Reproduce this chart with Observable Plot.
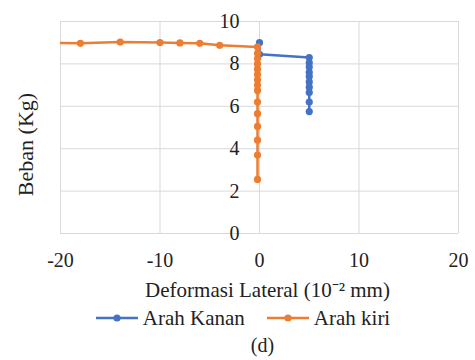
<!DOCTYPE html>
<html>
<head>
<meta charset="utf-8">
<script src="https://cdn.jsdelivr.net/npm/d3@7"></script>
<script src="https://cdn.jsdelivr.net/npm/@observablehq/plot@0.6"></script>
<style>
  body { margin: 0; background: #fff; font-family: 'Liberation Serif', serif; }
  #wrap { width: 475px; }
  #wrap svg { display: block; }
  .legend { display: flex; justify-content: center; align-items: center; gap: 21px; font-family: 'Liberation Serif', serif; font-size: 21px; color: #222; height: 22px; margin-top: -5px; padding-left: 10px; }
  .legend span.item { display: flex; align-items: center; gap: 4px; }
  .caption { text-align: center; font-family: 'Liberation Serif', serif; font-size: 20px; color: #222; margin-top: 5px; padding-left: 50px; }
</style>
</head>
<body>
<div id="wrap"></div>
<script>
// --- data ---
const seriesNames = ["Arah Kanan", "Arah kiri"];
const seriesColors = ["#4472C4", "#ED7D31"];

const kananX = [0, 0, 5, 5, 5, 5, 5, 5, 5, 5, 5, 5];
const kananY = [9.0, 8.45, 8.3, 8.05, 7.85, 7.6, 7.4, 7.15, 6.9, 6.65, 6.2, 5.75];

const kiriX = [-0.2, -0.2, -0.2, -0.2, -0.2, -0.2, -0.2, -0.2, -0.2, -0.2, -0.2, -0.2, -0.2, -0.2, -0.2, -4, -6, -8, -10, -14, -18, -22];
const kiriY = [2.55, 3.7, 4.4, 5.05, 5.65, 6.2, 6.75, 7.0, 7.25, 7.5, 7.75, 8.0, 8.25, 8.5, 8.8, 8.88, 8.97, 8.99, 9.01, 9.03, 8.97, 9.0];

const xTicks = [-20, -10, 0, 10, 20];
const yTicks = [0, 2, 4, 6, 8, 10];

const xTitle = "Deformasi Lateral (10⁻² mm)";
const yTitle = "Beban (Kg)";
const captionText = "(d)";

const kanan = kananX.map((x, i) => ({x, y: kananY[i]}));
const kiri = kiriX.map((x, i) => ({x, y: kiriY[i]}));

const font = "'Liberation Serif', serif";

const chart = Plot.plot({
  width: 475,
  height: 312,
  marginLeft: 60,
  marginRight: 17,
  marginTop: 21,
  marginBottom: 79,
  style: {fontFamily: font, fontSize: "20px", color: "#222", background: "#fff"},
  x: {domain: [-20, 20], ticks: xTicks, axis: null},
  y: {domain: [0, 10], ticks: yTicks, axis: null},
  marks: [
    Plot.gridX(xTicks, {stroke: "#d9d9d9", strokeOpacity: 1, strokeWidth: 1}),
    Plot.gridY(yTicks, {stroke: "#d9d9d9", strokeOpacity: 1, strokeWidth: 1}),
    Plot.text(xTicks, {x: d => d, frameAnchor: "bottom", dy: 33, text: d => String(d), fontSize: 20, fontFamily: font, fill: "#222"}),
    Plot.text(yTicks, {x: 0, y: d => d, text: d => String(d), textAnchor: "end", dx: -20, fontSize: 20, fontFamily: font, fill: "#222"}),
    Plot.line(kanan, {x: "x", y: "y", stroke: seriesColors[0], strokeWidth: 2.5, clip: true}),
    Plot.dot(kanan, {x: "x", y: "y", fill: seriesColors[0], r: 3.6, clip: true}),
    Plot.line(kiri, {x: "x", y: "y", stroke: seriesColors[1], strokeWidth: 2.5, clip: true}),
    Plot.dot(kiri, {x: "x", y: "y", fill: seriesColors[1], r: 3.6, clip: true}),
    Plot.text([xTitle], {frameAnchor: "bottom", textAnchor: "middle", dy: 63, dx: 8, text: d => d, fontSize: 21, fontFamily: font, fill: "#222"}),
    Plot.text([yTitle], {frameAnchor: "left", textAnchor: "middle", dx: -35, dy: 17, rotate: -90, text: d => d, fontSize: 22, fontFamily: font, fill: "#222"})
  ]
});

const wrap = document.getElementById("wrap");
wrap.appendChild(chart);

// legend
const legend = document.createElement("div");
legend.className = "legend";
seriesNames.forEach((name, i) => {
  const item = document.createElement("span");
  item.className = "item";
  item.innerHTML = `<svg width="44" height="12"><line x1="1" y1="6" x2="43" y2="6" stroke="${seriesColors[i]}" stroke-width="2.5"/><circle cx="22" cy="6" r="3.6" fill="${seriesColors[i]}"/></svg><span>${name}</span>`;
  legend.appendChild(item);
});
wrap.appendChild(legend);

const cap = document.createElement("div");
cap.className = "caption";
cap.textContent = captionText;
wrap.appendChild(cap);
</script>
</body>
</html>
